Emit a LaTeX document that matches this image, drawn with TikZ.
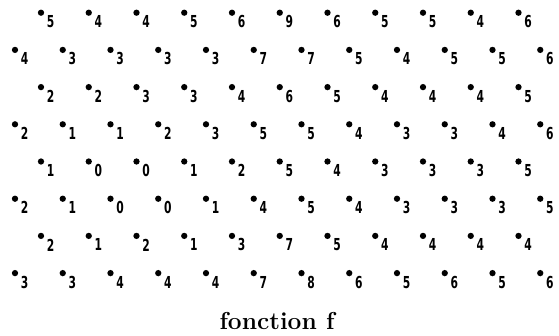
\documentclass[tikz,border=0pt]{standalone}
\usepackage{fontspec}
\newfontfamily\digitfont{DejaVu Sans}
\begin{document}
\begin{tikzpicture}[x=1pt,y=-1pt,
  dotst/.style={circle,fill=black,inner sep=0pt,minimum size=6.3pt},
  digitst/.style={font=\digitfont\bfseries\fontsize{16.5}{16.5}\selectfont,inner sep=0pt,anchor=center},
  capst/.style={font=\bfseries\fontsize{24.5}{28}\selectfont,inner sep=0pt,anchor=base}]
\useasboundingbox (0,0) rectangle (559,335);
\foreach \vals [count=\r] in {
  {5,4,4,5,6,9,6,5,5,4,6},
  {4,3,3,3,3,7,7,5,4,5,5,6},
  {2,2,3,3,4,6,5,4,4,4,5},
  {2,1,1,2,3,5,5,4,3,3,4,6},
  {1,0,0,1,2,5,4,3,3,3,5},
  {2,1,0,0,1,4,5,4,3,3,3,5},
  {2,1,2,1,3,7,5,4,4,4,4},
  {3,3,4,4,4,7,8,6,5,6,5,6}} {
  \pgfmathsetmacro{\xo}{isodd(\r)?41:15}
  \pgfmathsetmacro{\yy}{12.7+37.2*(\r-1)}
  \foreach \v [count=\c] in \vals {
    \node[dotst] (d\r-\c) at ({\xo+47.75*(\c-1)},\yy) {};
    \node[digitst] (n\r-\c) at ({\xo+47.75*(\c-1)+9.6},{\yy+9}) {\scalebox{0.65}[1]{\v}};
  }
}
\node[capst] (cap) at (277,329) {fonction f};
\end{tikzpicture}
\end{document}
